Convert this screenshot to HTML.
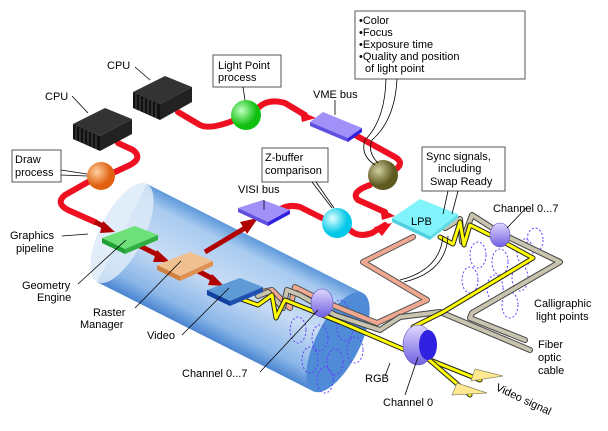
<!DOCTYPE html>
<html><head><meta charset="utf-8"><style>
html,body{margin:0;padding:0;background:#fff;width:608px;height:431px;overflow:hidden}
svg{display:block}
text{font-family:"Liberation Sans",sans-serif;font-size:11px;fill:#000}
</style></head><body>
<svg width="608" height="431" viewBox="0 0 608 431">
<defs>
<radialGradient id="gO" cx="35%" cy="35%"><stop offset="0" stop-color="#ffd0a0"/><stop offset="1" stop-color="#e06010"/></radialGradient>
<radialGradient id="gG" cx="35%" cy="35%"><stop offset="0" stop-color="#c0ffc0"/><stop offset="1" stop-color="#10c010"/></radialGradient>
<radialGradient id="gL" cx="35%" cy="35%"><stop offset="0" stop-color="#d0d0a0"/><stop offset="1" stop-color="#605a20"/></radialGradient>
<radialGradient id="gC" cx="35%" cy="35%"><stop offset="0" stop-color="#e0ffff"/><stop offset="1" stop-color="#00c8e8"/></radialGradient>
<linearGradient id="cyl" x1="0" y1="0" x2="0" y2="1"><stop offset="0" stop-color="#5d98da"/><stop offset=".15" stop-color="#a8cbf0"/><stop offset=".5" stop-color="#c8dcf4"/><stop offset=".85" stop-color="#8ab6e8"/><stop offset="1" stop-color="#4a84d0"/></linearGradient>
<linearGradient id="ring" x1="0" y1="0" x2="0" y2="1"><stop offset="0" stop-color="#e0d8ff"/><stop offset="1" stop-color="#7060e0"/></linearGradient>
</defs>
<!-- cylinder -->
<g transform="translate(122,233) rotate(26.8)">
<rect x="0" y="-55" width="242" height="110" fill="url(#cyl)"/>
<ellipse cx="242" cy="0" rx="22" ry="55" fill="#4f8bd6"/>
<ellipse cx="0" cy="0" rx="22" ry="55" fill="#dceaf8" opacity=".85"/>
</g>
<!-- dotted cylinders -->
<g fill="none" stroke="#6040ff" stroke-dasharray="2,2" stroke-width="1">
<ellipse cx="298" cy="330" rx="8" ry="13"/><ellipse cx="320" cy="338" rx="8" ry="13"/><ellipse cx="345" cy="328" rx="8" ry="13"/><ellipse cx="310" cy="360" rx="8" ry="13"/><ellipse cx="335" cy="362" rx="8" ry="13"/><ellipse cx="355" cy="350" rx="8" ry="13"/><ellipse cx="325" cy="380" rx="8" ry="13"/><ellipse cx="340" cy="312" rx="8" ry="12"/>
<ellipse cx="478" cy="255" rx="8" ry="13"/><ellipse cx="500" cy="262" rx="8" ry="13"/><ellipse cx="525" cy="252" rx="8" ry="13"/><ellipse cx="470" cy="280" rx="8" ry="13"/><ellipse cx="495" cy="288" rx="8" ry="13"/><ellipse cx="520" cy="278" rx="8" ry="13"/><ellipse cx="510" cy="305" rx="8" ry="13"/><ellipse cx="535" cy="240" rx="8" ry="12"/>
</g>
<!-- red pipes -->
<g fill="none" stroke="#ee1020" stroke-width="6" stroke-linejoin="round" stroke-linecap="round">
<path d="M178,112 L200,125 Q210,130 235,120"/>
<path d="M258,108 Q268,98 285,103 L305,115"/>
<path d="M355,135 L395,157 Q405,163 395,170"/>
<path d="M370,185 Q350,192 358,200 L385,212"/>
<path d="M118,143 L133,150 Q143,158 130,165 L115,172"/>
<path d="M88,182 L65,195 Q55,203 68,210 L95,222"/>
<path d="M275,214 Q285,203 300,207 L322,218"/>
<path d="M350,230 Q358,238 372,233 L385,225"/>
</g>
<g fill="#ee1020"><polygon points="300,111 316,118 302,122"/><polygon points="380,208 395,216 382,220"/><polygon points="374,227 392,223 382,236"/></g>
<g fill="none" stroke="#b00000" stroke-width="5">
<path d="M95,222 L105,227"/><path d="M140,246 L160,256"/><path d="M198,271 L215,280"/><path d="M205,252 L245,228"/>
</g>
<g fill="#b00000"><polygon points="103,221 115,232 100,233"/><polygon points="157,250 170,262 153,262"/><polygon points="212,274 224,286 208,285"/><polygon points="240,222 258,218 247,234"/></g>
<!-- cables -->
<g fill="none" stroke-linejoin="round" stroke-linecap="round">
<path d="M413,237 L363,262 L427,300 L377,323 L325,302 L295,287 L290,308 L272,290 L262,292" stroke="#555" stroke-width="6"/>
<path d="M413,237 L363,262 L427,300 L377,323 L325,302 L295,287 L290,308 L272,290 L262,292" stroke="#f0a890" stroke-width="4"/>
<path d="M258,296 L268,292 L283,308 L287,290 L300,295 L335,315 L380,330 L400,317 L440,312 L530,350" stroke="#444" stroke-width="6"/>
<path d="M258,296 L268,292 L283,308 L287,290 L300,295 L335,315 L380,330 L400,317 L440,312 L530,350" stroke="#c8c4b0" stroke-width="4"/>
<path d="M445,228 L460,219 L462,242 L472,215 L500,233 L560,262 L472,313 L470,318 L525,340" stroke="#444" stroke-width="6"/>
<path d="M445,228 L460,219 L462,242 L472,215 L500,233 L560,262 L472,313 L470,318 L525,340" stroke="#c8c4b0" stroke-width="4"/>
<path d="M238,298 L258,305 L272,295 L276,318 L285,300 L340,322 L410,352 L480,380" stroke="#222" stroke-width="5"/>
<path d="M238,298 L258,305 L272,295 L276,318 L285,300 L340,322 L410,352 L480,380" stroke="#ffff00" stroke-width="3"/>
<path d="M440,237 L453,244 L460,222 L464,245 L470,225 L500,240 L533,258 L443,312 L413,327 L412,345 L470,395" stroke="#222" stroke-width="5"/>
<path d="M440,237 L453,244 L460,222 L464,245 L470,225 L500,240 L533,258 L443,312 L413,327 L412,345 L470,395" stroke="#ffff00" stroke-width="3"/>
</g>
<polygon points="475,369 503,376 471,381" fill="#ffe890" stroke="#886" stroke-width=".7"/>
<polygon points="457,383 487,393 452,395" fill="#ffe890" stroke="#886" stroke-width=".7"/>
<!-- channel rings -->
<ellipse cx="322" cy="303" rx="11" ry="14" fill="url(#ring)" stroke="#6050c0" stroke-width=".6"/>
<ellipse cx="500" cy="235" rx="10" ry="12" fill="url(#ring)" stroke="#6050c0" stroke-width=".6"/>
<ellipse cx="418" cy="345" rx="15" ry="20" fill="url(#ring)" stroke="#6050c0" stroke-width=".6"/>
<ellipse cx="428" cy="345" rx="9" ry="15" fill="#3020e0"/>
<!-- boards -->
<polygon points="102,238 135,226 158,235 125,249" fill="#6ee07a"/><polygon points="102,238 125,249 125,254 102,243" fill="#20a030"/><polygon points="125,249 158,235 158,240 125,254" fill="#30b040"/>
<polygon points="157,265 190,252 213,261 180,276" fill="#f0c090"/><polygon points="157,265 180,276 180,281 157,270" fill="#d08040"/><polygon points="180,276 213,261 213,266 180,281" fill="#e09050"/>
<polygon points="207,290 240,278 263,287 230,301" fill="#5e9ad6"/><polygon points="207,290 230,301 230,306 207,295" fill="#1040a0"/><polygon points="230,301 263,287 263,292 230,306" fill="#2050b0"/>
<polygon points="238,208 263,200 290,210 268,222" fill="#a090f8"/><polygon points="238,208 268,222 268,226 238,212" fill="#6050e0"/><polygon points="268,222 290,210 290,214 268,226" fill="#3020e0"/>
<polygon points="310,122 323,112 362,128 348,138" fill="#a090f8"/><polygon points="310,122 348,138 348,142 310,126" fill="#6050e0"/><polygon points="348,138 362,128 362,132 348,142" fill="#3020e0"/>
<polygon points="392,218 420,199 458,214 430,236" fill="#80f4fa"/><polygon points="392,218 430,236 430,240 392,222" fill="#50d0e0"/><polygon points="430,236 458,214 458,218 430,240" fill="#60dce8"/>
<text x="411" y="225" font-size="12">LPB</text>
<!-- CPUs -->
<g>
<polygon points="73,124 105,108 132,119 100,136" fill="#333"/>
<polygon points="73,124 100,136 100,151 73,139" fill="#111"/>
<polygon points="100,136 132,119 132,134 100,151" fill="#222"/>
<g stroke="#666" stroke-width=".7"><line x1="76" y1="126" x2="76" y2="140"/><line x1="80" y1="128" x2="80" y2="142"/><line x1="84" y1="130" x2="84" y2="144"/><line x1="88" y1="131" x2="88" y2="146"/><line x1="92" y1="133" x2="92" y2="147"/><line x1="96" y1="135" x2="96" y2="149"/></g>
<polygon points="133,92 165,76 192,87 160,104" fill="#333"/>
<polygon points="133,92 160,104 160,120 133,108" fill="#111"/>
<polygon points="160,104 192,87 192,102 160,120" fill="#222"/>
<g stroke="#666" stroke-width=".7"><line x1="136" y1="94" x2="136" y2="109"/><line x1="140" y1="96" x2="140" y2="111"/><line x1="144" y1="98" x2="144" y2="113"/><line x1="148" y1="99" x2="148" y2="115"/><line x1="152" y1="101" x2="152" y2="116"/><line x1="156" y1="103" x2="156" y2="118"/></g>
</g>
<!-- spheres -->
<circle cx="101" cy="176" r="14" fill="url(#gO)"/>
<circle cx="246" cy="115" r="15" fill="url(#gG)"/>
<circle cx="383" cy="175" r="15" fill="url(#gL)"/>
<circle cx="337" cy="223" r="15" fill="url(#gC)"/>
<!-- label boxes -->
<g fill="#fff" stroke="#555" stroke-width="1">
<rect x="12" y="150" width="49" height="32"/>
<rect x="213" y="55" width="68" height="32"/>
<rect x="262" y="148" width="66" height="34"/>
<rect x="355" y="11" width="170" height="68"/>
<rect x="422" y="147" width="83" height="44"/>
</g>
<g stroke="#000" stroke-width=".8" fill="none">
<line x1="61" y1="170" x2="87" y2="174"/><line x1="61" y1="175" x2="87" y2="176"/>
<line x1="135" y1="67" x2="150" y2="80"/><line x1="72" y1="96" x2="88" y2="113"/>
<line x1="243" y1="87" x2="245" y2="100"/><line x1="335" y1="100" x2="335" y2="115"/>
<line x1="264" y1="200" x2="264" y2="210"/>
<line x1="312" y1="182" x2="332" y2="208"/><line x1="316" y1="182" x2="334" y2="208"/>
<path d="M386,79 Q385,120 365,140 Q360,155 375,165"/><path d="M397,79 Q395,120 372,140 Q367,152 378,163"/>
<line x1="448" y1="191" x2="443" y2="214"/><line x1="458" y1="191" x2="452" y2="214"/>
<path d="M443,236 Q440,270 400,280"/><path d="M448,236 Q446,272 404,282"/>
<line x1="62" y1="236" x2="88" y2="234"/><line x1="78" y1="284" x2="126" y2="240"/><line x1="135" y1="308" x2="181" y2="261"/>
<line x1="182" y1="335" x2="229" y2="288"/><line x1="260" y1="372" x2="318" y2="310"/>
<line x1="385" y1="376" x2="390" y2="363"/><line x1="405" y1="395" x2="418" y2="357"/>
<line x1="527" y1="207" x2="507" y2="228"/>
</g>
<text x="45" y="100">CPU</text><text x="107" y="69">CPU</text>
<text x="15" y="163">Draw</text><text x="15" y="176">process</text>
<text x="218" y="69">Light Point</text><text x="218" y="81">process</text>
<text x="313" y="98">VME bus</text>
<text x="359" y="24">•Color</text><text x="359" y="36">•Focus</text><text x="359" y="48">•Exposure time</text><text x="359" y="60">•Quality and position</text><text x="365" y="72">of light point</text>
<text x="265" y="161">Z-buffer</text><text x="265" y="174">comparison</text>
<text x="426" y="160">Sync signals,</text><text x="438" y="172">including</text><text x="430" y="185">Swap Ready</text>
<text x="238" y="193">VISI bus</text>
<text x="493" y="212">Channel 0...7</text>
<text x="10" y="239">Graphics</text><text x="16" y="252">pipeline</text>
<text x="22" y="289">Geometry</text><text x="37" y="301">Engine</text>
<text x="93" y="316">Raster</text><text x="80" y="328">Manager</text>
<text x="147" y="339">Video</text>
<text x="182" y="377">Channel 0...7</text>
<text x="365" y="382">RGB</text>
<text x="383" y="406">Channel 0</text>
<text x="534" y="307">Calligraphic</text><text x="536" y="320">light points</text>
<text x="538" y="348">Fiber</text><text x="538" y="361">optic</text><text x="538" y="374">cable</text>
<text x="495" y="390" transform="rotate(25 495 390)">Video signal</text>
</svg>
</body></html>
